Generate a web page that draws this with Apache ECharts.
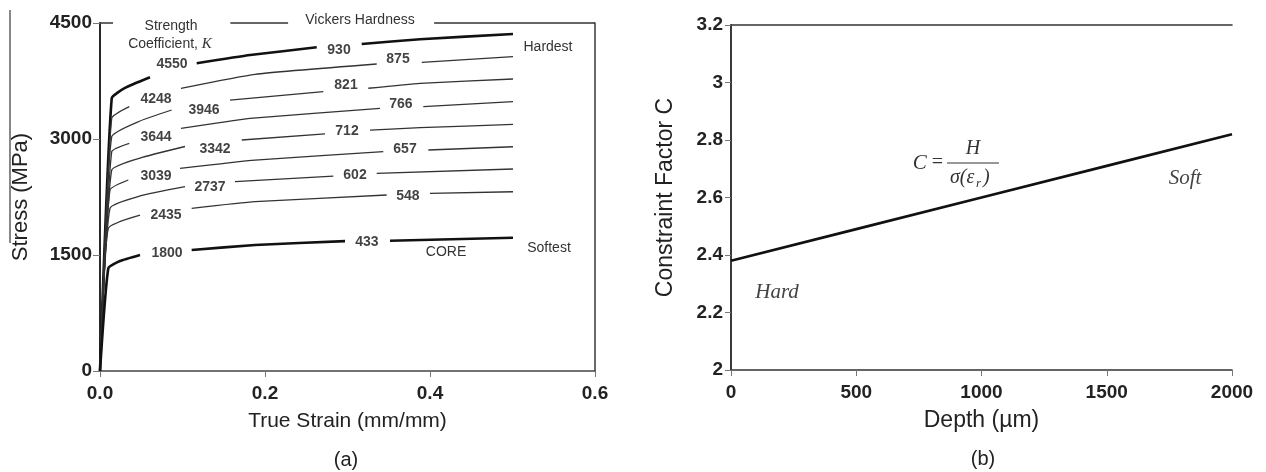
<!DOCTYPE html>
<html><head><meta charset="utf-8">
<script src="https://cdn.jsdelivr.net/npm/echarts/dist/echarts.min.js"></script>
<style>html,body{margin:0;padding:0;background:#fff}#c{width:1266px;height:472px}</style>
</head><body><div id="c"></div>
<script>
// ---------- Panel (a): true stress vs true strain ----------
const strainTicks = [0, 0.2, 0.4, 0.6];
const stressTicks = [0, 1500, 3000, 4500];
const kLabels  = ['4550','4248','3946','3644','3342','3039','2737','2435','1800'];
const hvLabels = ['930','875','821','766','712','657','602','548','433'];
const kLabelStrain  = [0.0873, 0.0679, 0.126, 0.0679, 0.1394, 0.0679, 0.1333, 0.08, 0.0812];
const kLabelStress  = [3970, 3517, 3375, 3026, 2871, 2522, 2379, 2017, 1526];
const hvLabelStrain = [0.2897, 0.3612, 0.2982, 0.3648, 0.2994, 0.3697, 0.3091, 0.3733, 0.3236];
const hvLabelStress = [4151, 4034, 3698, 3453, 3103, 2871, 2534, 2263, 1668];
// curves (null = gap where a label sits)
const c930Strain = [0, 0.0142, 0.0303, 0.0606, null, 0.1172, 0.182, 0.2627, null, 0.3172, 0.3879, 0.5006];
const c930Stress = [0, 3526, 3660, 3798, null, 3979, 4086, 4186, null, 4228, 4289, 4358];
const c875Strain = [0, 0.0142, 0.0355, null, 0.0982, 0.1879, 0.3354, null, 0.39, 0.5006];
const c875Stress = [0, 3268, 3418, null, 3656, 3837, 3970, null, 3992, 4064];
const c821Strain = [0, 0.0142, 0.0485, 0.0869, null, 0.1576, 0.2707, null, 0.3252, 0.3879, 0.5006];
const c821Stress = [0, 3030, 3233, 3375, null, 3504, 3612, null, 3656, 3720, 3776];
const c766Strain = [0, 0.0142, 0.0355, null, 0.0982, 0.1536, 0.1818, 0.3394, null, 0.3919, 0.5006];
const c766Stress = [0, 2836, 2944, null, 3138, 3224, 3268, 3397, null, 3418, 3482];
const c712Strain = [0, 0.0142, 0.0485, 0.103, null, 0.1718, 0.2727, null, 0.3273, 0.3879, 0.5006];
const c712Stress = [0, 2599, 2754, 2903, null, 2987, 3065, null, 3116, 3146, 3190];
const c657Strain = [0, 0.0121, 0.0343, null, 0.097, 0.1879, 0.3434, null, 0.398, 0.5006];
const c657Stress = [0, 2341, 2470, null, 2621, 2728, 2836, null, 2858, 2900];
const c602Strain = [0, 0.0121, 0.0485, 0.103, null, 0.1636, 0.2828, null, 0.3354, 0.5006];
const c602Stress = [0, 2104, 2263, 2383, null, 2448, 2521, null, 2556, 2612];
const c548Strain = [0, 0.0101, 0.0485, null, 0.1111, 0.1879, 0.3475, null, 0.4, 0.5006];
const c548Stress = [0, 1845, 2017, null, 2104, 2189, 2276, null, 2298, 2318];
const c433Strain = [0, 0.0101, 0.0242, 0.0485, null, 0.1111, 0.1879, 0.297, null, 0.3515, 0.5006];
const c433Stress = [0, 1328, 1422, 1500, null, 1565, 1629, 1680, null, 1685, 1724];
// top frame pieces (broken where the header texts sit)
const topFrameStrain = [0, 0.0158, null, 0.158, 0.228, null, 0.405, 0.6];

// ---------- Panel (b): constraint factor vs depth ----------
const depthTicks = [0, 500, 1000, 1500, 2000];
const cTicks = [2, 2.2, 2.4, 2.6, 2.8, 3, 3.2];
const depth = [0, 500, 1000, 1500, 2000];
const constraintC = [2.38, 2.49, 2.60, 2.71, 2.82];

function pairs(xs, ys) { return xs.map((x, i) => x === null ? null : [x, ys[i]]); }

const SANS = '"Liberation Sans", Arial, sans-serif';
const SERIF = '"Liberation Serif", "Times New Roman", serif';
const tickLabel = { fontFamily: SANS, fontWeight: 'bold', fontSize: 19, color: '#222' };
const plain = v => String(v);

const curves = [
  [c930Strain, c930Stress, true], [c875Strain, c875Stress, false], [c821Strain, c821Stress, false],
  [c766Strain, c766Stress, false], [c712Strain, c712Stress, false], [c657Strain, c657Stress, false],
  [c602Strain, c602Stress, false], [c548Strain, c548Stress, false], [c433Strain, c433Stress, true]
];

const series = curves.map(([xs, ys, thick]) => ({
  type: 'line', xAxisIndex: 0, yAxisIndex: 0, data: pairs(xs, ys),
  showSymbol: false, symbol: 'none', connectNulls: false, silent: true, clip: false,
  smooth: 0.15,
  lineStyle: { color: thick ? '#111' : '#333', width: thick ? 2.6 : 1.3 }
}));

series.push({
  type: 'line', xAxisIndex: 0, yAxisIndex: 0, silent: true, clip: false, symbol: 'none',
  data: topFrameStrain.map(x => x === null ? null : [x, stressTicks[stressTicks.length - 1]]),
  lineStyle: { color: '#333', width: 1.6 }
});

function labelSeries(names, xs, ys) {
  return {
    type: 'scatter', xAxisIndex: 0, yAxisIndex: 0, silent: true, symbolSize: 2,
    itemStyle: { color: 'rgba(0,0,0,0)' }, clip: false,
    data: names.map((n, i) => ({ name: n, value: [xs[i], ys[i]] })),
    label: { show: true, position: 'inside', formatter: '{b}', fontFamily: SANS, fontWeight: 'bold', fontSize: 14, color: '#111' },
    labelLayout: { hideOverlap: false }
  };
}
series.push(labelSeries(kLabels, kLabelStrain, kLabelStress));
series.push(labelSeries(hvLabels, hvLabelStrain, hvLabelStress));

series.push({
  type: 'line', xAxisIndex: 1, yAxisIndex: 2, data: pairs(depth, constraintC),
  symbol: 'none', silent: true, lineStyle: { color: '#111', width: 2.6 }
});

const option = {
  animation: false,
  backgroundColor: '#fff',
  grid: [
    { left: 100, top: 23, width: 495, height: 348 },
    { left: 731, top: 25, width: 501, height: 345 }
  ],
  xAxis: [
    { type: 'value', gridIndex: 0, min: strainTicks[0], max: strainTicks[strainTicks.length - 1],
      interval: strainTicks[1] - strainTicks[0],
      axisLine: { lineStyle: { color: '#444', width: 1.6 } },
      axisTick: { length: 6, lineStyle: { color: '#777' } },
      axisLabel: Object.assign({ margin: 13, formatter: v => v.toFixed(1) }, tickLabel),
      splitLine: { show: false },
      name: 'True Strain (mm/mm)', nameLocation: 'middle', nameGap: 40,
      nameTextStyle: { fontFamily: SANS, fontSize: 21, color: '#222' } },
    { type: 'value', gridIndex: 1, min: depthTicks[0], max: depthTicks[depthTicks.length - 1],
      interval: depthTicks[1] - depthTicks[0],
      axisLine: { lineStyle: { color: '#333', width: 1.6 } },
      axisTick: { length: 6, lineStyle: { color: '#777' } },
      axisLabel: Object.assign({ margin: 13, formatter: plain }, tickLabel),
      splitLine: { show: false },
      name: 'Depth (µm)', nameLocation: 'middle', nameGap: 39,
      nameTextStyle: { fontFamily: SANS, fontSize: 23, color: '#222' } },
    { type: 'value', gridIndex: 1, position: 'top', min: depthTicks[0], max: depthTicks[depthTicks.length - 1],
      axisLine: { lineStyle: { color: '#333', width: 1.6 } },
      axisTick: { show: false }, axisLabel: { show: false }, splitLine: { show: false } }
  ],
  yAxis: [
    { type: 'value', gridIndex: 0, min: stressTicks[0], max: stressTicks[stressTicks.length - 1],
      interval: stressTicks[1] - stressTicks[0],
      axisLine: { show: true, lineStyle: { color: '#111', width: 1.8 } },
      axisTick: { show: true, length: 7, lineStyle: { color: '#777' } },
      axisLabel: Object.assign({ margin: 8, formatter: plain }, tickLabel),
      splitLine: { show: false },
      name: 'Stress (MPa)', nameLocation: 'middle', nameGap: 68,
      nameTextStyle: { fontFamily: SANS, fontSize: 22, color: '#222' } },
    { type: 'value', gridIndex: 0, position: 'right', min: stressTicks[0], max: stressTicks[stressTicks.length - 1],
      axisLine: { show: true, lineStyle: { color: '#444', width: 1.6 } },
      axisTick: { show: false }, axisLabel: { show: false }, splitLine: { show: false } },
    { type: 'value', gridIndex: 1, min: cTicks[0], max: cTicks[cTicks.length - 1],
      interval: 0.2,
      axisLine: { show: true, lineStyle: { color: '#333', width: 1.6 } },
      axisTick: { show: true, length: 6, lineStyle: { color: '#777' } },
      axisLabel: Object.assign({ margin: 8 }, tickLabel),
      splitLine: { show: false },
      name: 'Constraint Factor C', nameLocation: 'middle', nameGap: 54,
      nameTextStyle: { fontFamily: SANS, fontSize: 23, color: '#222' } },
    { type: 'value', gridIndex: 1, position: 'right', min: cTicks[0], max: cTicks[cTicks.length - 1],
      axisLine: { show: true, lineStyle: { color: '#333', width: 1.6 } },
      axisTick: { show: false }, axisLabel: { show: false }, splitLine: { show: false } }
  ],
  graphic: [
    { type: 'line', shape: { x1: 10, y1: 10, x2: 10, y2: 243 }, style: { stroke: '#555', lineWidth: 1.4 } },
    { type: 'text', x: 171, y: 26, style: { text: 'Strength', font: '14px ' + SANS, fill: '#333', align: 'center', verticalAlign: 'middle' } },
    { type: 'text', x: 170, y: 44, style: { text: 'Coefficient, {k|K}', font: '14px ' + SANS, fill: '#333', align: 'center', verticalAlign: 'middle',
        rich: { k: { fontFamily: SERIF, fontStyle: 'italic', fontSize: 15, fill: '#333' } } } },
    { type: 'text', x: 360, y: 20, style: { text: 'Vickers Hardness', font: '14px ' + SANS, fill: '#333', align: 'center', verticalAlign: 'middle' } },
    { type: 'text', x: 548, y: 47, style: { text: 'Hardest', font: '14px ' + SANS, fill: '#333', align: 'center', verticalAlign: 'middle' } },
    { type: 'text', x: 549, y: 248, style: { text: 'Softest', font: '14px ' + SANS, fill: '#333', align: 'center', verticalAlign: 'middle' } },
    { type: 'text', x: 446, y: 252, style: { text: 'CORE', font: '14px ' + SANS, fill: '#333', align: 'center', verticalAlign: 'middle' } },
    { type: 'text', x: 346, y: 460, style: { text: '(a)', font: '20px ' + SANS, fill: '#222', align: 'center', verticalAlign: 'middle' } },
    { type: 'text', x: 983, y: 459, style: { text: '(b)', font: '20px ' + SANS, fill: '#222', align: 'center', verticalAlign: 'middle' } },
    { type: 'text', x: 777, y: 292, style: { text: 'Hard', font: 'italic 21px ' + SERIF, fill: '#444', align: 'center', verticalAlign: 'middle' } },
    { type: 'text', x: 1185, y: 178, style: { text: 'Soft', font: 'italic 21px ' + SERIF, fill: '#444', align: 'center', verticalAlign: 'middle' } },
    { type: 'text', x: 943, y: 163, style: { text: '{i|C} =', font: '20px ' + SERIF, fill: '#333', align: 'right', verticalAlign: 'middle',
        rich: { i: { fontFamily: SERIF, fontStyle: 'italic', fontSize: 21, fill: '#333' } } } },
    { type: 'text', x: 973, y: 149, style: { text: 'H', font: 'italic 20px ' + SERIF, fill: '#333', align: 'center', verticalAlign: 'middle' } },
    { type: 'line', shape: { x1: 947, y1: 163, x2: 999, y2: 163 }, style: { stroke: '#333', lineWidth: 1.2 } },
    { type: 'text', x: 950, y: 178, style: { text: 'σ(ε', font: 'italic 20px ' + SERIF, fill: '#333', align: 'left', verticalAlign: 'middle' } },
    { type: 'text', x: 976, y: 184, style: { text: 'r', font: 'italic 13px ' + SERIF, fill: '#333', align: 'left', verticalAlign: 'middle' } },
    { type: 'text', x: 983, y: 178, style: { text: ')', font: 'italic 20px ' + SERIF, fill: '#333', align: 'left', verticalAlign: 'middle' } }
  ],
  series: series
};

const chart = echarts.init(document.getElementById('c'));
chart.setOption(option);
</script>
</body></html>
